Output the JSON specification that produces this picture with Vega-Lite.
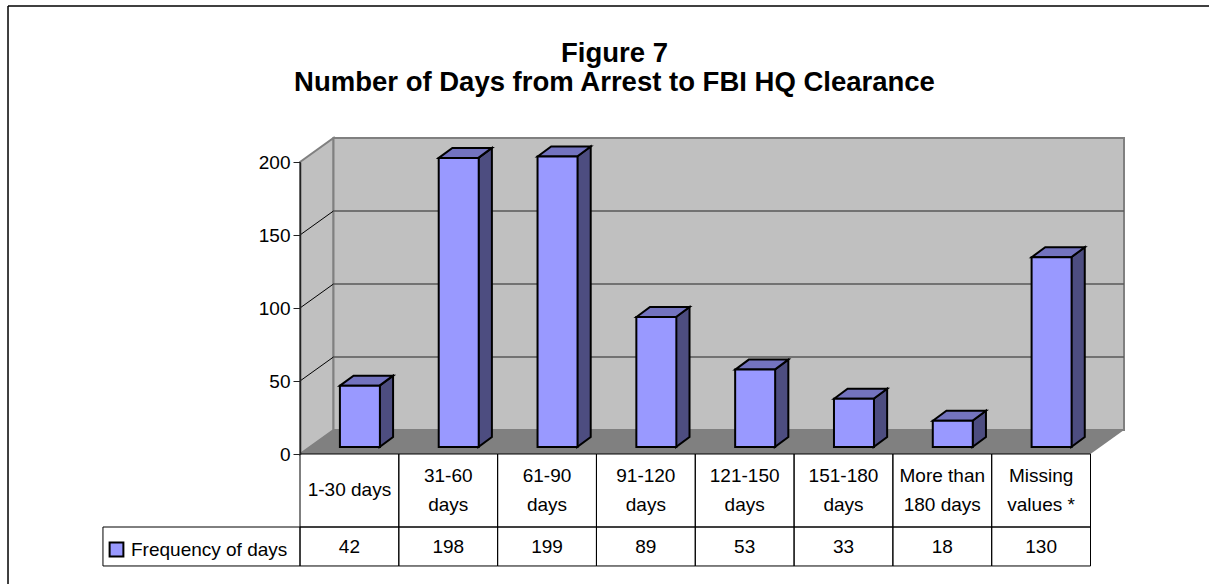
{
"$schema":"https://vega.github.io/schema/vega-lite/v6.json",
"width":1209,"height":584,"padding":0,"autosize":{"type":"none"},
"background":"white",
"config":{"view":{"stroke":null},"font":"Liberation Sans"},
"title":{"text":["Figure 7","Number of Days from Arrest to FBI HQ Clearance"],"font":"Liberation Sans","fontSize":27.5,"fontWeight":"bold","color":"black","anchor":"middle","dx":10,"offset":-96,"lineHeight":29},
"datasets":{
"freq":[
{"category":"1-30 days","label":"1-30 days","value":42},
{"category":"31-60 days","label":"31-60\ndays","value":198},
{"category":"61-90 days","label":"61-90\ndays","value":199},
{"category":"91-120 days","label":"91-120\ndays","value":89},
{"category":"121-150 days","label":"121-150\ndays","value":53},
{"category":"151-180 days","label":"151-180\ndays","value":33},
{"category":"More than 180 days","label":"More than\n180 days","value":18},
{"category":"Missing values *","label":"Missing\nvalues *","value":130}
],
"frame":[
{"part":"left","u":0,"top":200,"bottom":0},
{"part":"left","u":0.339,"top":216.44,"bottom":16.44},
{"part":"back","u":0.339,"top":216.44,"bottom":16.44},
{"part":"back","u":8.339,"top":216.44,"bottom":16.44},
{"part":"floor","u":0,"top":0,"bottom":0},
{"part":"floor","u":0.339,"top":16.44,"bottom":0},
{"part":"floor","u":8,"top":16.44,"bottom":0},
{"part":"floor","u":8.339,"top":16.44,"bottom":16.44}
],
"levels":[{"level":50},{"level":100},{"level":150}]
},
"resolve":{"scale":{"x":"independent"},"axis":{"y":"independent"}},
"layer":[
{"data":{"name":"frame"},"transform":[{"filter":"datum.part!='floor'"}],
 "mark":{"type":"area","fill":"#c0c0c0","stroke":"#808080","strokeWidth":2},
 "encoding":{"detail":{"field":"part"},
  "x":{"field":"u","type":"quantitative","scale":{"type":"linear","domain":[0,8],"range":[300,1090.5],"nice":false,"zero":false},"axis":null},
  "y":{"field":"top","type":"quantitative","scale":{"domain":[0,200],"range":[454,162],"nice":false},"axis":null},
  "y2":{"field":"bottom"}}},
{"data":{"name":"frame"},"transform":[{"filter":"datum.part=='floor'"}],
 "mark":{"type":"area","fill":"#808080"},
 "encoding":{
  "x":{"field":"u","type":"quantitative","scale":{"type":"linear","domain":[0,8],"range":[300,1090.5],"nice":false,"zero":false},"axis":null},
  "y":{"field":"top","type":"quantitative","scale":{"domain":[0,200],"range":[454,162],"nice":false},"axis":null},
  "y2":{"field":"bottom"}}},
{"data":{"name":"levels"},"transform":[{"calculate":"datum.level+16.44","as":"backLevel"},{"calculate":"0.339","as":"a"},{"calculate":"8.339","as":"b"}],
 "mark":{"type":"rule","color":"#595959","strokeWidth":1.5},
 "encoding":{
  "x":{"field":"a","type":"quantitative","scale":{"type":"linear","domain":[0,8],"range":[300,1090.5],"nice":false,"zero":false},"axis":null},
  "x2":{"field":"b"},
  "y":{"field":"backLevel","type":"quantitative","scale":{"domain":[0,200],"range":[454,162],"nice":false},"axis":null}}},
{"data":{"name":"levels"},"transform":[{"calculate":"datum.level+16.44","as":"backLevel"},{"calculate":"0","as":"a"},{"calculate":"0.339","as":"b"}],
 "mark":{"type":"rule","color":"black","strokeWidth":1},
 "encoding":{
  "x":{"field":"a","type":"quantitative","scale":{"type":"linear","domain":[0,8],"range":[300,1090.5],"nice":false,"zero":false},"axis":null},
  "x2":{"field":"b"},
  "y":{"field":"level","type":"quantitative","scale":{"domain":[0,200],"range":[454,162],"nice":false},"axis":null},
  "y2":{"field":"backLevel"}}},
{"data":{"name":"freq"},"transform":[
  {"window":[{"op":"row_number","as":"rn"}]},
  {"calculate":"[0,1]","as":"e"},{"flatten":["e"]},
  {"calculate":"datum.rn-1+0.405+0.4+0.137*datum.e","as":"xs"},
  {"calculate":"datum.value+4.8+6.85*datum.e","as":"ys"},
  {"calculate":"4.8+6.85*datum.e","as":"ys0"}],
 "mark":{"type":"area","fill":"#4d4d80","stroke":"black","strokeWidth":2},
 "encoding":{"detail":{"field":"category"},
  "x":{"field":"xs","type":"quantitative","scale":{"type":"linear","domain":[0,8],"range":[300,1090.5],"nice":false,"zero":false},"axis":null},
  "y":{"field":"ys","type":"quantitative","scale":{"domain":[0,200],"range":[454,162],"nice":false},"axis":null},
  "y2":{"field":"ys0"}}},
{"data":{"name":"freq"},"transform":[
  {"window":[{"op":"row_number","as":"rn"}]},
  {"calculate":"[0,1,2,3]","as":"e"},{"flatten":["e"]},
  {"calculate":"datum.rn-1+0.405+[0,0.137,0.4,0.537][datum.e]","as":"xs"},
  {"calculate":"datum.value+4.8+[0,6.85,6.85,6.85][datum.e]","as":"ys"},
  {"calculate":"datum.value+4.8+[0,0,0,6.85][datum.e]","as":"ys0"}],
 "mark":{"type":"area","fill":"#7373bf","stroke":"black","strokeWidth":2},
 "encoding":{"detail":{"field":"category"},
  "x":{"field":"xs","type":"quantitative","scale":{"type":"linear","domain":[0,8],"range":[300,1090.5],"nice":false,"zero":false},"axis":null},
  "y":{"field":"ys","type":"quantitative","scale":{"domain":[0,200],"range":[454,162],"nice":false},"axis":null},
  "y2":{"field":"ys0"}}},
{"data":{"name":"freq"},"transform":[{"calculate":"datum.value+4.8","as":"raised"},{"calculate":"4.8","as":"raisedBase"}],
 "mark":{"type":"bar","size":40,"xOffset":10.5,"stroke":"black","strokeWidth":2},
 "encoding":{
  "x":{"field":"category","type":"nominal","sort":null,"scale":{"type":"band","range":[300,1090.5],"paddingInner":0,"paddingOuter":0},"axis":null},
  "y":{"field":"raised","type":"quantitative","stack":null,"scale":{"domain":[0,200],"range":[454,162],"nice":false},"axis":null},
  "y2":{"field":"raisedBase"},
  "fill":{"datum":"Frequency of days","scale":{"range":["#9999ff"]},
   "legend":{"title":null,"orient":"none","legendX":107,"legendY":540,"symbolType":"square","symbolSize":190,"symbolStrokeColor":"black","symbolStrokeWidth":2,"labelFontSize":19,"labelColor":"black","labelFont":"Liberation Sans","labelOffset":5,"padding":0}}}},
{"data":{"name":"levels"},
 "mark":{"type":"rule","opacity":0},
 "encoding":{
  "y":{"field":"level","type":"quantitative","scale":{"domain":[0,200],"range":[454,162],"nice":false},
   "axis":{"title":null,"offset":-300,"values":[0,50,100,150,200],"grid":false,"tickColor":"#222","tickSize":7,"tickWidth":1,"domainColor":"#222","domainWidth":1.5,"labelFontSize":19,"labelColor":"black","labelPadding":3,"labelFont":"Liberation Sans","zindex":1}}}},
{"data":{"name":"freq"},
 "mark":{"type":"rect","fill":null,"stroke":"black","strokeWidth":1},
 "encoding":{
  "x":{"field":"category","type":"nominal","sort":null,"scale":{"type":"band","range":[300,1090.5],"paddingInner":0,"paddingOuter":0},"axis":null},
  "y":{"datum":0,"type":"quantitative","scale":{"domain":[0,200],"range":[454,162],"nice":false},"axis":null},
  "y2":{"datum":-50}}},
{"data":{"name":"freq"},
 "mark":{"type":"rect","fill":null,"stroke":"black","strokeWidth":1},
 "encoding":{
  "x":{"field":"category","type":"nominal","sort":null,"scale":{"type":"band","range":[300,1090.5],"paddingInner":0,"paddingOuter":0},"axis":null},
  "y":{"datum":-50,"type":"quantitative","scale":{"domain":[0,200],"range":[454,162],"nice":false},"axis":null},
  "y2":{"datum":-76.7}}},
{"data":{"values":[{"row":"Frequency of days"}]},
 "mark":{"type":"rect","fill":null,"stroke":"black","strokeWidth":1},
 "encoding":{
  "x":{"datum":-1.994,"type":"quantitative","scale":{"type":"linear","domain":[0,8],"range":[300,1090.5],"nice":false,"zero":false},"axis":null},
  "x2":{"datum":0},
  "y":{"datum":-50,"type":"quantitative","scale":{"domain":[0,200],"range":[454,162],"nice":false},"axis":null},
  "y2":{"datum":-76.7}}},
{"data":{"name":"freq"},"transform":[{"calculate":"indexof(datum.label,'\\n')>=0 ? -15 : -24.5","as":"labelY"}],
 "mark":{"type":"text","fontSize":19,"font":"Liberation Sans","color":"black","lineBreak":"\n","lineHeight":29,"align":"center","baseline":"middle"},
 "encoding":{
  "x":{"field":"category","type":"nominal","sort":null,"scale":{"type":"band","range":[300,1090.5],"paddingInner":0,"paddingOuter":0},"axis":null},
  "y":{"field":"labelY","type":"quantitative","scale":{"domain":[0,200],"range":[454,162],"nice":false},"axis":null},
  "text":{"field":"label"}}},
{"data":{"name":"freq"},
 "mark":{"type":"text","fontSize":19,"font":"Liberation Sans","color":"black","align":"center","baseline":"middle"},
 "encoding":{
  "x":{"field":"category","type":"nominal","sort":null,"scale":{"type":"band","range":[300,1090.5],"paddingInner":0,"paddingOuter":0},"axis":null},
  "y":{"datum":-64,"type":"quantitative","scale":{"domain":[0,200],"range":[454,162],"nice":false},"axis":null},
  "text":{"field":"value","type":"quantitative"}}},
{"data":{"values":[{"edge":"top"}]},
 "mark":{"type":"rule","color":"black","strokeWidth":1.5},
 "encoding":{
  "x":{"datum":-2.955,"type":"quantitative","scale":{"type":"linear","domain":[0,8],"range":[300,1090.5],"nice":false,"zero":false},"axis":null},
  "x2":{"datum":9.2},
  "y":{"datum":306.8,"type":"quantitative","scale":{"domain":[0,200],"range":[454,162],"nice":false},"axis":null}}},
{"data":{"values":[{"edge":"left"}]},
 "mark":{"type":"rule","color":"black","strokeWidth":1.5},
 "encoding":{
  "x":{"datum":-2.955,"type":"quantitative","scale":{"type":"linear","domain":[0,8],"range":[300,1090.5],"nice":false,"zero":false},"axis":null},
  "y":{"datum":306.8,"type":"quantitative","scale":{"domain":[0,200],"range":[454,162],"nice":false},"axis":null},
  "y2":{"datum":-89}}}
]
}
